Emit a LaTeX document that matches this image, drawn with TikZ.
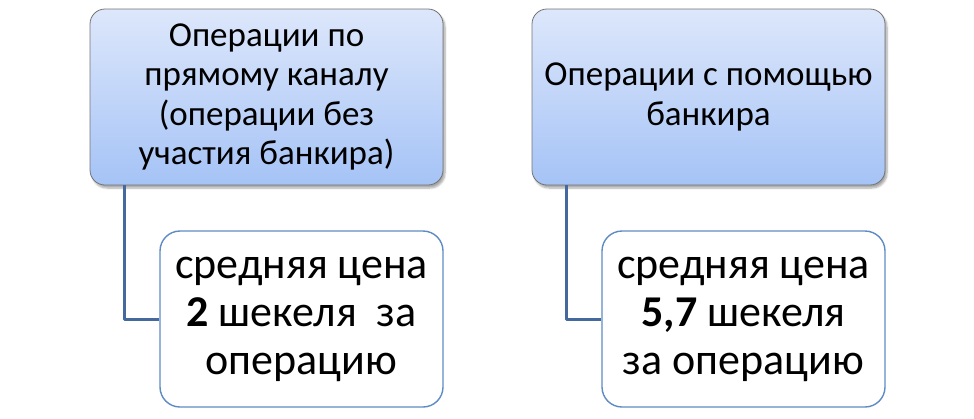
\documentclass[tikz,border=0pt]{standalone}
\usepackage{fontspec}
\setmainfont{Carlito}
\usetikzlibrary{shadows.blur}
\definecolor{boxtop}{HTML}{DDE7FB}
\definecolor{boxbot}{HTML}{A5C3F6}
\definecolor{linkblue}{HTML}{44699E}
\definecolor{framblue}{HTML}{5F8BC4}
\begin{document}
\begin{tikzpicture}[x=1pt, y=-1pt, line join=round,
	head/.style={rectangle, rounded corners=15pt, draw=black!55, line width=.8pt,
		top color=boxtop, bottom color=boxbot, minimum width=353pt, minimum height=176pt,
		align=center, font=\fontsize{35}{39.5}\selectfont,
		blur shadow={shadow xshift=2pt, shadow yshift=-3pt, shadow blur steps=6, shadow opacity=35}},
	price/.style={rectangle, rounded corners=20pt, draw=framblue, line width=1.4pt, fill=white,
		minimum width=283pt, minimum height=176pt, align=center,
		font=\fontsize{44}{48}\selectfont},
	link/.style={draw=linkblue, line width=3pt}]
\useasboundingbox (0,0) rectangle (974,418);
\node[head] (direct) at (266.5,97) {Операции по\\прямому каналу\\(операции без\\участия банкира)};
\node[head] (banker) at (708.5,97) {Операции с помощью\\банкира};
\node[price] (directprice) at (301.5,319) {средняя цена\\\textbf{2} шекеля~~за\\операцию};
\node[price] (bankerprice) at (743.5,319) {средняя цена\\\textbf{5,7} шекеля\hspace*{.3em}\\за операцию};
\foreach \a/\b in {direct/directprice,banker/bankerprice}
	\draw[link] (\a.south west) ++(35,0) |- (\b.west);
\end{tikzpicture}
\end{document}
